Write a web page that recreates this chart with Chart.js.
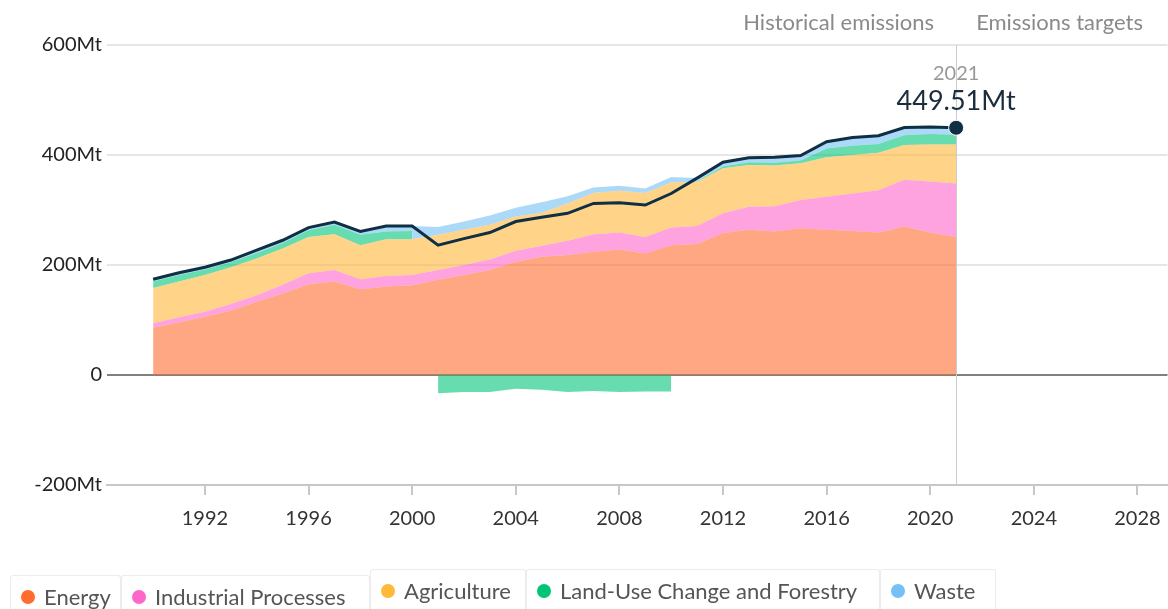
<!DOCTYPE html>
<html>
<head>
<meta charset="utf-8">
<title>Emissions by sector</title>
<script src="https://cdn.jsdelivr.net/npm/chart.js@4.4.1/dist/chart.umd.min.js"></script>
<style>
   html, body { margin: 0; padding: 0; background: #fff; overflow: hidden; }
   #wrap { position: relative; width: 1168px; height: 609px; overflow: hidden; font-family: Lato, sans-serif; }
   #chartBox { position: absolute; left: 0; top: 0; width: 1176px; height: 609px; }
   #legend .item {
      position: absolute; height: 42px; display: flex; align-items: center;
      box-sizing: border-box; padding-left: 10px;
      border: 1px solid #ececec; border-bottom: none; border-radius: 3px 3px 0 0;
      font-size: 22px; color: #555; white-space: nowrap;
   }
   #legend .dot { width: 14px; height: 14px; border-radius: 50%; margin-right: 9px; flex: none; }
</style>
</head>
<body>
<div id="wrap">
   <div id="chartBox"><canvas id="emissionsChart"></canvas></div>
   <div id="legend"></div>
</div>
<script>
const years = [1990, 1991, 1992, 1993, 1994, 1995, 1996, 1997, 1998, 1999,
   2000, 2001, 2002, 2003, 2004, 2005, 2006, 2007, 2008, 2009,
   2010, 2011, 2012, 2013, 2014, 2015, 2016, 2017, 2018, 2019, 2020, 2021];
const tickYears = [1992, 1996, 2000, 2004, 2008, 2012, 2016, 2020, 2024, 2028];

// Mt per sector
const energy = [86, 96, 106, 117, 133, 148, 165, 170, 156, 161,
   163, 173, 182, 191, 206, 215, 218, 224, 228, 221,
   236, 238, 258, 264, 261, 267, 264, 262, 259, 270, 259, 251];
const industrial = [8, 9, 9, 12, 12, 16, 20, 21, 18, 19,
   19, 18, 18, 19, 20, 20, 26, 32, 31, 30,
   32, 33, 36, 42, 46, 51, 60, 68, 77, 85, 93, 97];
const agriculture = [64, 65, 67, 67, 67, 66, 66, 65, 62, 67,
   65, 64, 64, 63, 62, 60, 68, 75, 76, 80,
   82, 80, 82, 76, 74, 67, 72, 70, 68, 63, 67, 71];
const landUse = [12, 12, 10, 9, 10, 10, 12, 17, 19, 14,
   15, -33, -31, -31, -25, -27, -31, -29, -31, -30,
   -30, 1, 3, 5, 5, 5, 16, 17, 16, 18, 19, 18];
const waste = [4, 4, 4, 4, 5, 5, 5, 5, 6, 10,
   9, 14, 15, 17, 16, 19, 13, 10, 9, 8,
   10, 6, 8, 8, 10, 9, 12, 15, 15, 14, 13, 12.51];
const totals = [174, 186, 196, 209, 227, 245, 268, 278, 261, 271,
   271, 236, 248, 259, 279, 287, 294, 312, 313, 309,
   330, 358, 387, 395, 396, 399, 424, 432, 435, 450, 451, 449.51];

const sectorNames = ['Energy', 'Industrial Processes', 'Agriculture', 'Land-Use Change and Forestry', 'Waste'];
const sectorColors = ['#ff6c2f', '#ff66cc', '#ffb838', '#00c479', '#76c0f5'];
const totalColor = '#0f2f45';

function areaColor(hex) {
   const n = parseInt(hex.slice(1), 16);
   return `rgba(${n >> 16}, ${(n >> 8) & 255}, ${n & 255}, 0.6)`;
}

const toPoints = values => values.map((v, i) => ({ x: years[i], y: v }));

// land-use is positive in some years and negative in others: split so each part stacks on its own side
const landUsePositive = landUse.map(v => (v >= 0 ? v : null));
const landUseNegative = landUse.map(v => (v < 0 ? v : null));

function area(label, values, colorIndex, fill) {
   return {
      label,
      data: toPoints(values),
      backgroundColor: areaColor(sectorColors[colorIndex]),
      borderColor: 'transparent',
      borderWidth: 0,
      pointRadius: 0,
      fill
   };
}

const lastIndex = years.length - 1;

const datasets = [
   area(sectorNames[0], energy, 0, 'origin'),
   area(sectorNames[1], industrial, 1, '-1'),
   area(sectorNames[2], agriculture, 2, '-1'),
   area(sectorNames[3], landUsePositive, 3, '-1'),
   area(sectorNames[4], waste, 4, 'stack'),
   area(sectorNames[3], landUseNegative, 3, 'origin'),
   {
      label: 'Total',
      data: toPoints(totals),
      stack: 'total',
      order: -1,
      fill: false,
      borderColor: totalColor,
      borderWidth: 3,
      pointRadius: ctx => (ctx.dataIndex === lastIndex ? 7.5 : 0),
      pointBackgroundColor: totalColor,
      pointBorderColor: '#ffffff',
      pointBorderWidth: 1
   }
];

// vertical divider at the last year plus the labels around it
const markerPlugin = {
   id: 'markerPlugin',
   beforeDatasetsDraw(chart) {
      const { ctx, chartArea, scales: { x } } = chart;
      const px = Math.round(x.getPixelForValue(years[lastIndex])) + 0.5;
      ctx.save();
      ctx.strokeStyle = '#cccccc';
      ctx.lineWidth = 1;
      ctx.beginPath();
      ctx.moveTo(px, chartArea.top);
      ctx.lineTo(px, chartArea.bottom);
      ctx.stroke();
      ctx.restore();
   },
   afterDraw(chart) {
      const { ctx, scales: { x, y } } = chart;
      const px = x.getPixelForValue(years[lastIndex]);
      const py = y.getPixelForValue(totals[lastIndex]);
      ctx.save();
      ctx.textBaseline = 'middle';
      ctx.font = '22px Lato';
      ctx.fillStyle = '#8a8a8a';
      ctx.textAlign = 'right';
      ctx.fillText('Historical emissions', px - 22, 23);
      ctx.textAlign = 'left';
      ctx.fillText('Emissions targets', px + 20, 23);
      ctx.textAlign = 'center';
      ctx.font = '20px Lato';
      ctx.fillStyle = '#999999';
      ctx.fillText(String(years[lastIndex]), px, py - 54);
      ctx.font = '27px Lato';
      ctx.fillStyle = '#1b2d3d';
      ctx.fillText(totals[lastIndex].toFixed(2) + 'Mt', px, py - 26);
      ctx.restore();
   }
};

Chart.defaults.font.family = 'Lato, sans-serif';

new Chart(document.getElementById('emissionsChart'), {
   type: 'line',
   data: { datasets },
   plugins: [markerPlugin],
   options: {
      responsive: true,
      maintainAspectRatio: false,
      animation: false,
      layout: { padding: { top: 45, right: 0, bottom: 84, left: 0 } },
      elements: { line: { tension: 0 } },
      plugins: {
         legend: { display: false },
         tooltip: { enabled: false }
      },
      scales: {
         x: {
            type: 'linear',
            bounds: 'data',
            min: 1988.22,
            max: 2029.16,
            afterBuildTicks: scale => { scale.ticks = tickYears.map(value => ({ value })); },
            afterFit: scale => {
               scale.height = 40;
               scale.paddingLeft = 0;
               scale.paddingRight = 0;
            },
            grid: { drawOnChartArea: false, drawTicks: true, tickLength: 10, color: '#c8c8c8', lineWidth: 2 },
            border: { display: true, color: '#c8c8c8', width: 2 },
            ticks: {
               autoSkip: false,
               maxRotation: 0,
               padding: 12,
               color: '#333',
               font: { size: 20 },
               callback: v => String(v)
            }
         },
         y: {
            stacked: true,
            min: -200,
            max: 600,
            afterFit: scale => { scale.width = 107; },
            grid: {
               drawTicks: false,
               color: ctx => (ctx.tick && ctx.tick.value === 0 ? '#808080' : '#e6e6e6'),
               lineWidth: 2
            },
            border: { display: false },
            ticks: {
               stepSize: 200,
               padding: 5,
               color: '#222',
               font: { size: 20 },
               callback: v => (v === 0 ? '0' : v + 'Mt')
            }
         }
      }
   }
});

// legend buttons along the bottom
const legendSpots = [
   { left: 10, top: 575, width: 111 },
   { left: 121, top: 575, width: 249 },
   { left: 370, top: 569, width: 156 },
   { left: 526, top: 569, width: 354 },
   { left: 880, top: 569, width: 116 }
];
const legend = document.getElementById('legend');
sectorNames.forEach((name, i) => {
   const item = document.createElement('div');
   item.className = 'item';
   item.style.left = legendSpots[i].left + 'px';
   item.style.top = legendSpots[i].top + 'px';
   item.style.width = legendSpots[i].width + 'px';
   const dot = document.createElement('span');
   dot.className = 'dot';
   dot.style.background = sectorColors[i];
   const text = document.createElement('span');
   text.textContent = name;
   item.appendChild(dot);
   item.appendChild(text);
   legend.appendChild(item);
});
</script>
</body>
</html>
